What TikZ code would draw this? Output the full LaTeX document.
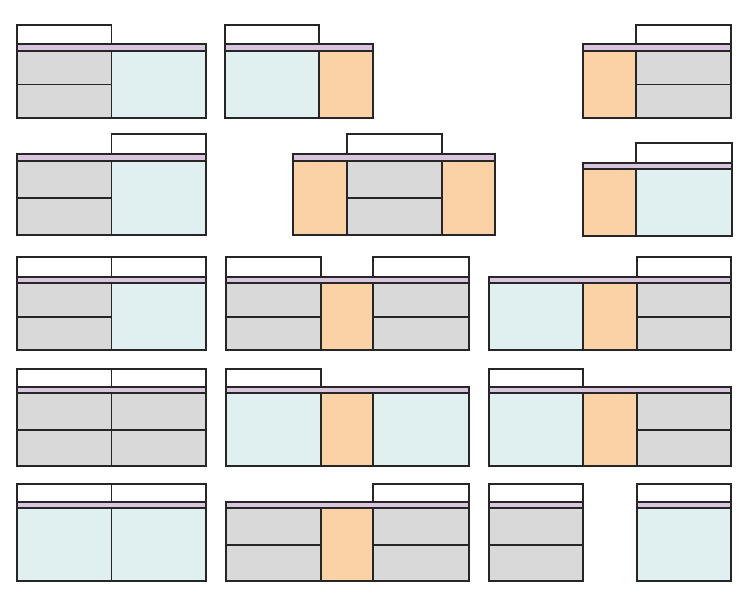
\documentclass[tikz,border=0pt]{standalone}
\definecolor{cgrey}{HTML}{D9D9D9}
\definecolor{cblue}{HTML}{E0F0F0}
\definecolor{corange}{HTML}{FAD2A6}
\definecolor{cpurple}{HTML}{D9C6DE}
\definecolor{cline}{HTML}{262626}
\tikzset{
  inner/.style={draw=cline,line width=1.1pt},
  outer/.style={draw=cline,line width=1.6pt},
  stripbox/.style={fill=cpurple,draw=cline,line width=1.4pt},
  topbox/.style={fill=white,draw=cline,line width=1.4pt},
}
% drawer module: x1 x2 ytop ymid ybot
\newcommand\Dmod[5]{\fill[cgrey] (#1,#3) rectangle (#2,#5);
  \draw[inner] (#1,#4) -- (#2,#4); \draw[inner] (#1,#3) rectangle (#2,#5);}
% sink module: x1 x2 ytop ybot
\newcommand\Smod[4]{\fill[cblue] (#1,#3) rectangle (#2,#4);
  \draw[inner] (#1,#3) rectangle (#2,#4);}
% orange module
\newcommand\Omod[4]{\fill[corange] (#1,#3) rectangle (#2,#4);
  \draw[inner] (#1,#3) rectangle (#2,#4);}
% outline + strip: x1 x2 striptop stripbot ybot
\newcommand\Body[5]{\draw[outer] (#1,#4) rectangle (#2,#5);
  \draw[stripbox] (#1,#3) rectangle (#2,#4);}
% top box: x1 x2 ytop ybot
\newcommand\Topb[4]{\draw[topbox] (#1,#3) rectangle (#2,#4);}
\begin{document}
\begin{tikzpicture}[x=1pt,y=-1pt]
\useasboundingbox (0,0) rectangle (754,599);
% ---------- Row 1 ----------
% U1
\Dmod{17}{111.5}{51}{84.5}{118}\Smod{111.5}{206}{51}{118}
\Body{17}{206}{44}{51}{118}\Topb{17}{111.5}{25}{44}
% U2
\Smod{225}{319}{51}{118}\Omod{319}{373}{51}{118}
\Body{225}{373}{44}{51}{118}\Topb{225}{319}{25}{44}
% U3
\Omod{583}{636}{51}{118}\Dmod{636}{731}{51}{84.5}{118}
\Body{583}{731}{44}{51}{118}\Topb{636}{731}{25}{44}
% ---------- Row 2 ----------
% U4
\Dmod{17}{111.5}{161}{198}{235}\Smod{111.5}{206}{161}{235}
\Body{17}{206}{154}{161}{235}\Topb{111.5}{206}{134}{154}
% U5
\Omod{293}{347}{161}{235}\Dmod{347}{442}{161}{198}{235}\Omod{442}{495}{161}{235}
\Body{293}{495}{154}{161}{235}\Topb{347}{442}{134}{154}
% U6
\Omod{583}{636}{169}{236}\Smod{636}{732}{169}{236}
\Body{583}{732}{163}{169}{236}\Topb{636}{732}{143}{163}
% ---------- Row 3 ----------
% U7
\Dmod{17}{111.5}{283}{317}{350}\Smod{111.5}{206}{283}{350}
\Body{17}{206}{277}{283}{350}\Topb{17}{111.5}{257}{277}\Topb{111.5}{206}{257}{277}
% U8
\Dmod{226}{321}{283}{317}{350}\Omod{321}{373}{283}{350}\Dmod{373}{469}{283}{317}{350}
\Body{226}{469}{277}{283}{350}\Topb{226}{321}{257}{277}\Topb{373}{469}{257}{277}
% U9
\Smod{489}{583}{283}{350}\Omod{583}{637}{283}{350}\Dmod{637}{731}{283}{317}{350}
\Body{489}{731}{277}{283}{350}\Topb{637}{731}{257}{277}
% ---------- Row 4 ----------
% U10
\Dmod{17}{111.5}{393}{430}{466}\Dmod{111.5}{206}{393}{430}{466}
\Body{17}{206}{387}{393}{466}\Topb{17}{111.5}{369}{387}\Topb{111.5}{206}{369}{387}
% U11
\Smod{226}{321}{393}{466}\Omod{321}{373}{393}{466}\Smod{373}{469}{393}{466}
\Body{226}{469}{387}{393}{466}\Topb{226}{321}{369}{387}
% U12
\Smod{489}{583}{393}{466}\Omod{583}{637}{393}{466}\Dmod{637}{731}{393}{430}{466}
\Body{489}{731}{387}{393}{466}\Topb{489}{583}{369}{387}
% ---------- Row 5 ----------
% U13
\Smod{17}{111.5}{508}{581}\Smod{111.5}{206}{508}{581}
\Body{17}{206}{502}{508}{581}\Topb{17}{111.5}{484}{502}\Topb{111.5}{206}{484}{502}
% U14
\Dmod{226}{321}{508}{545}{581}\Omod{321}{373}{508}{581}\Dmod{373}{469}{508}{545}{581}
\Body{226}{469}{502}{508}{581}\Topb{373}{469}{484}{502}
% U15
\Dmod{489}{583}{508}{545}{581}
\Body{489}{583}{502}{508}{581}\Topb{489}{583}{484}{502}
% U16
\Smod{637}{731}{508}{581}
\Body{637}{731}{502}{508}{581}\Topb{637}{731}{484}{502}
\end{tikzpicture}
\end{document}
